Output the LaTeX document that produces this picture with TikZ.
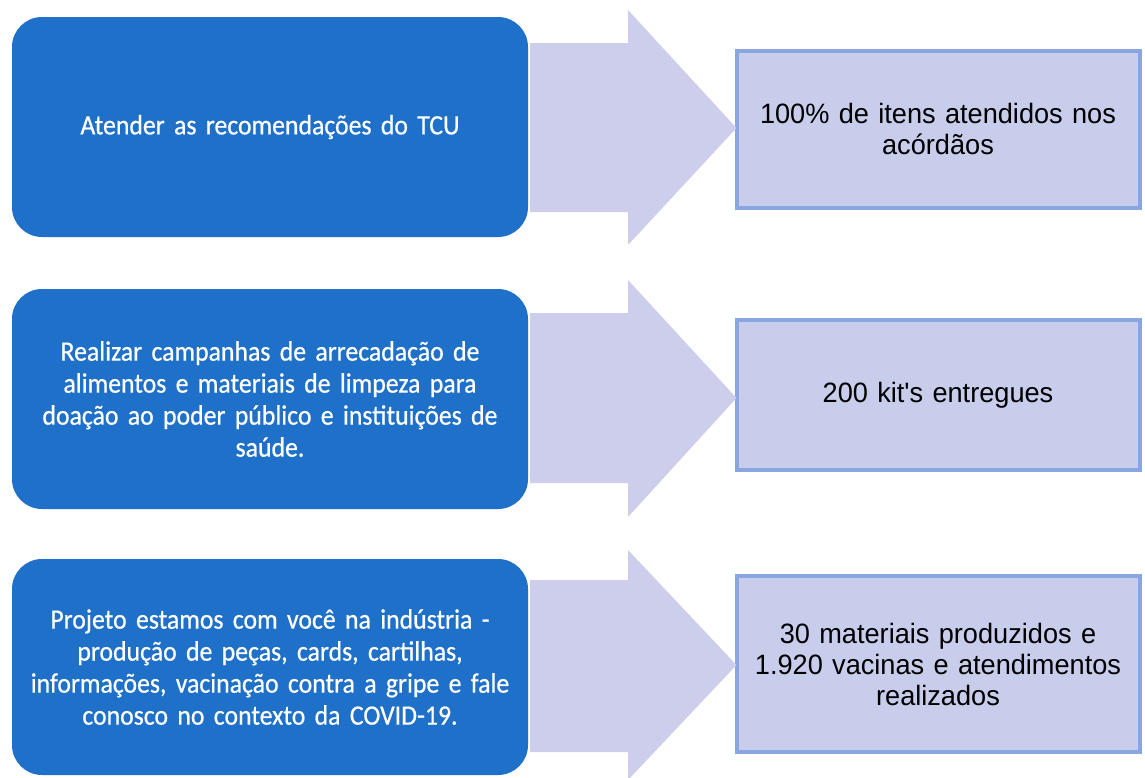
\documentclass[tikz,border=0pt]{standalone}
\usepackage{fontspec}
\setmainfont{Carlito}[FakeStretch=0.92,WordSpace=0.85,FakeBold=0.6]
\newfontfamily\arialf{Liberation Sans}[FakeStretch=0.97]
\definecolor{bluebox}{RGB}{31,112,200}
\definecolor{arrowc}{RGB}{205,205,236}
\definecolor{resfill}{RGB}{200,205,236}
\definecolor{resdraw}{RGB}{138,166,224}
\tikzset{
  actbox/.style={fill=bluebox, rounded corners=30pt, text=white, align=center,
    font=\fontsize{28}{32}\selectfont, minimum width=516pt, text width=490pt,
    inner sep=0pt, outer sep=0pt},
  resbox/.style={fill=resfill, draw=resdraw, line width=4pt, align=center,
    font=\arialf\fontsize{28}{31}\selectfont, minimum width=403pt, text width=390pt,
    inner sep=0pt, outer sep=0pt},
  bigarrow/.style={fill=arrowc}
}
\begin{document}
\begin{tikzpicture}[x=1pt,y=-1pt]
\useasboundingbox (0,0) rectangle (1145,777);
% row 1
\node[actbox, minimum height=220pt] (a1) at (270,127) {Atender as recomendações do TCU};
\node[resbox, minimum height=157pt] (r1) at (938,129) {100\% de itens atendidos nos\\acórdãos};
% row 2
\node[actbox, minimum height=220pt] (a2) at (270,399) {Realizar campanhas de arrecadação de\\alimentos e materiais de limpeza para\\doação ao poder público e instituições de\\saúde.};
\node[resbox, minimum height=150pt] (r2) at (938,395) {200 kit's entregues};
% row 3
\node[actbox, minimum height=216pt] (a3) at (270,667) {Projeto estamos com você na indústria -\\produção de peças, cards, cartilhas,\\informações, vacinação contra a gripe e fale\\conosco no contexto da COVID-19.};
\node[resbox, minimum height=176pt] (r3) at (938,664) {30 materiais produzidos e\\1.920 vacinas e atendimentos\\realizados};
% arrows
\fill[bigarrow] (530,43) -- (628,43) -- (628,10) -- (r1.west |- 0,128) -- (628,245) -- (628,212) -- (530,212) -- cycle;
\fill[bigarrow] (530,313) -- (628,313) -- (628,280) -- (r2.west |- 0,398) -- (628,517) -- (628,483) -- (530,483) -- cycle;
\fill[bigarrow] (530,580) -- (628,580) -- (628,550) -- (r3.west |- 0,665) -- (628,780) -- (628,752) -- (530,752) -- cycle;
\end{tikzpicture}
\end{document}
